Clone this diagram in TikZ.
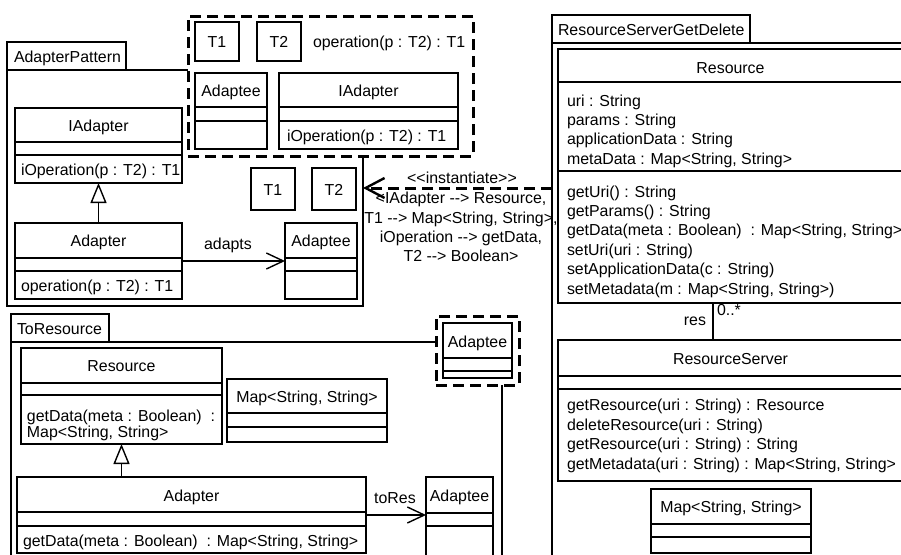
\documentclass[tikz,border=0pt]{standalone}
\usepackage{fontspec}
\setmainfont{Liberation Sans}
\usetikzlibrary{arrows.meta}
\newcommand\fs{\fontsize{15.9}{19}\selectfont}
\newcommand\umlbox[6][cls]{\node[#1, minimum width={#5-#3}, minimum height={#6-#4}] (#2) at ({(#3+#5)/2},{(#4+#6)/2}) {};}
\newcommand\hsep[2]{\draw[sep] (#1.west |- 0,#2) -- (#1.east |- 0,#2);}
\begin{document}
\begin{tikzpicture}[x=1pt,y=-1pt,
  cls/.style={draw, line width=1.4pt, rectangle, inner sep=0pt, outer sep=0pt, fill=white},
  pkg/.style={draw, line width=1.4pt, rectangle, inner sep=0pt, outer sep=0pt},
  tmpl/.style={draw, line width=3pt, dash pattern=on 11pt off 6pt, fill=white, rectangle, inner sep=0pt, outer sep=0pt},
  sep/.style={line width=1.4pt},
  lbl/.style={inner sep=0pt, outer sep=0pt, font=\fs, anchor=base},
  lbw/.style={lbl, anchor=base west},
  lbe/.style={lbl, anchor=base east},
  gen/.style={line width=1.4pt, -{Triangle[open, length=20pt, width=16pt]}},
  assoc/.style={line width=1.4pt, -{Straight Barb[length=17pt, width=16pt]}},
  inst/.style={line width=3pt, dash pattern=on 11pt off 6pt, -{Straight Barb[length=19pt, width=20pt, line width=2.4pt]}},
]
\useasboundingbox (0,0) rectangle (901,554);
\clip (0,0) rectangle (901,554);
% ---------- packages ----------
\umlbox[pkg]{aptab}{7}{42}{126}{70}
\umlbox[pkg]{ap}{7}{70}{363}{306}
\node[lbw] (aptxt) at (14,62) {AdapterPattern};
\umlbox[pkg]{trtab}{11}{314}{109}{342}
\umlbox[pkg]{tr}{11}{342}{502}{620}
\node[lbw] (trtxt) at (17,334) {ToResource};
\umlbox[pkg]{rstab}{552}{15}{750}{43}
\umlbox[pkg]{rsgd}{552}{43}{960}{620}
\node[lbw] (rstxt) at (558,35) {ResourceServerGetDelete};
% ---------- AdapterPattern ----------
\umlbox{apia}{15}{108}{182}{183}
\hsep{apia}{142}\hsep{apia}{155}
\node[lbl] (apian) at (apia.center |- 0,131) {IAdapter};
\node[lbw] (apiam) at (21,175) {iOperation(p : T2) : T1};
\umlbox{apad}{15}{223}{182}{299}
\hsep{apad}{258}\hsep{apad}{271}
\node[lbl] (apadn) at (apad.center |- 0,246) {Adapter};
\node[lbw] (apadm) at (21,291) {operation(p : T2) : T1};
\umlbox{apadt}{285}{223}{357}{299}
\hsep{apadt}{258}\hsep{apadt}{271}
\node[lbl] (apadtn) at (apadt.center |- 0,246) {Adaptee};
\draw[gen] (apad.north) -- (apia.south);
\draw[assoc] (apad.east) -- (apadt.west);
\node[lbl] (adapts) at (228,249) {adapts};
\umlbox{apt1}{251}{168}{295}{210}
\node[lbl] (apt1n) at (apt1.center |- 0,195) {T1};
\umlbox{apt2}{312}{168}{356}{210}
\node[lbl] (apt2n) at (apt2.center |- 0,195) {T2};
% template box
\umlbox[tmpl]{aptm}{188}{16}{473}{156}
\umlbox{tt1}{195}{22}{239}{61}
\node[lbl] (tt1n) at (tt1.center |- 0,47) {T1};
\umlbox{tt2}{257}{22}{301}{61}
\node[lbl] (tt2n) at (tt2.center |- 0,47) {T2};
\node[lbw] (ttop) at (313,47) {operation(p : T2) : T1};
\umlbox{tadt}{195}{73}{267}{149}
\hsep{tadt}{107}\hsep{tadt}{121}
\node[lbl] (tadtn) at (tadt.center |- 0,96) {Adaptee};
\umlbox{tia}{279}{73}{458}{149}
\hsep{tia}{107}\hsep{tia}{121}
\node[lbl] (tian) at (tia.center |- 0,96) {IAdapter};
\node[lbw] (tiam) at (287,141) {iOperation(p : T2) : T1};
% ---------- instantiate ----------
\draw[inst] (ap.east -| rsgd.west) -- (ap.east);
\node[lbl] (inst0) at (462,183) {<{}<instantiate>{}>};
\node[lbl] (inst1) at (461,203) {<IAdapter -{}-> Resource,};
\node[lbl] (inst2) at (461,223) {T1 -{}-> Map<String, String>,};
\node[lbl] (inst3) at (461,242) {iOperation -{}-> getData,};
\node[lbl] (inst4) at (461,261) {T2 -{}-> Boolean>};
% ---------- ToResource ----------
\umlbox{trres}{21}{348}{222}{444}
\hsep{trres}{383}\hsep{trres}{395}
\node[lbl] (trresn) at (trres.center |- 0,371) {Resource};
\node[lbw] (trresm1) at (27,421) {getData(meta : Boolean)\ \ :};
\node[lbw] (trresm2) at (27,437) {Map<String, String>};
\umlbox{trmap}{227}{379}{387}{442}
\hsep{trmap}{413}\hsep{trmap}{427}
\node[lbl] (trmapn) at (trmap.center |- 0,402) {Map<String, String>};
\umlbox{trad}{17}{477}{366}{553}
\hsep{trad}{512}\hsep{trad}{526}
\node[lbl] (tradn) at (trad.center |- 0,501) {Adapter};
\node[lbw] (tradm) at (23,546) {getData(meta : Boolean)\ \ : Map<String, String>};
\umlbox{tradt}{426}{477}{493}{600}
\hsep{tradt}{513}\hsep{tradt}{526}
\node[lbl] (tradtn) at (tradt.center |- 0,501) {Adaptee};
\draw[gen] (trres.south |- trad.north) -- (trres.south);
\draw[assoc] (trad.east) -- (trad.east -| tradt.west);
\node[lbl] (tores) at (395,503) {toRes};
\umlbox[tmpl]{trtm}{436}{316}{519}{385}
\umlbox{tradt2}{443}{323}{512}{378}
\hsep{tradt2}{358}\hsep{tradt2}{371}
\node[lbl] (tradt2n) at (tradt2.center |- 0,347) {Adaptee};
% ---------- ResourceServerGetDelete ----------
\umlbox{rres}{558}{49}{903}{303}
\hsep{rres}{82}\hsep{rres}{171}
\node[lbl] (rresn) at (rres.center |- 0,73) {Resource};
\node[lbw] (ra1) at (567,106) {uri : String};
\node[lbw] (ra2) at (567,125.4) {params : String};
\node[lbw] (ra3) at (567,144.8) {applicationData : String};
\node[lbw] (ra4) at (567,164.2) {metaData : Map<String, String>};
\node[lbw] (rm1) at (567,197) {getUri() : String};
\node[lbw] (rm2) at (567,216.4) {getParams() : String};
\node[lbw] (rm3) at (567,235.8) {getData(meta : Boolean)\ \ : Map<String, String>};
\node[lbw] (rm4) at (567,255.2) {setUri(uri : String)};
\node[lbw] (rm5) at (567,274.6) {setApplicationData(c : String)};
\node[lbw] (rm6) at (567,294) {setMetadata(m : Map<String, String>)};
\umlbox{rsrv}{558}{340}{903}{481}
\hsep{rsrv}{376}\hsep{rsrv}{389}
\node[lbl] (rsrvn) at (rsrv.center |- 0,364) {ResourceServer};
\node[lbw] (sm1) at (567,410.5) {getResource(uri : String) : Resource};
\node[lbw] (sm2) at (567,430) {deleteResource(uri : String)};
\node[lbw] (sm3) at (567,449.5) {getResource(uri : String) : String};
\node[lbw] (sm4) at (567,469) {getMetadata(uri : String) : Map<String, String>};
\draw[sep] (rsrv.north -| 713,0) -- (rres.south -| 713,0);
\node[lbe] (resl) at (706,325) {res};
\node[lbw] (mult) at (717,315) {0..*};
\umlbox{rmap}{651}{489}{811}{553}
\hsep{rmap}{524}\hsep{rmap}{537}
\node[lbl] (rmapn) at (rmap.center |- 0,512) {Map<String, String>};
\end{tikzpicture}
\end{document}
